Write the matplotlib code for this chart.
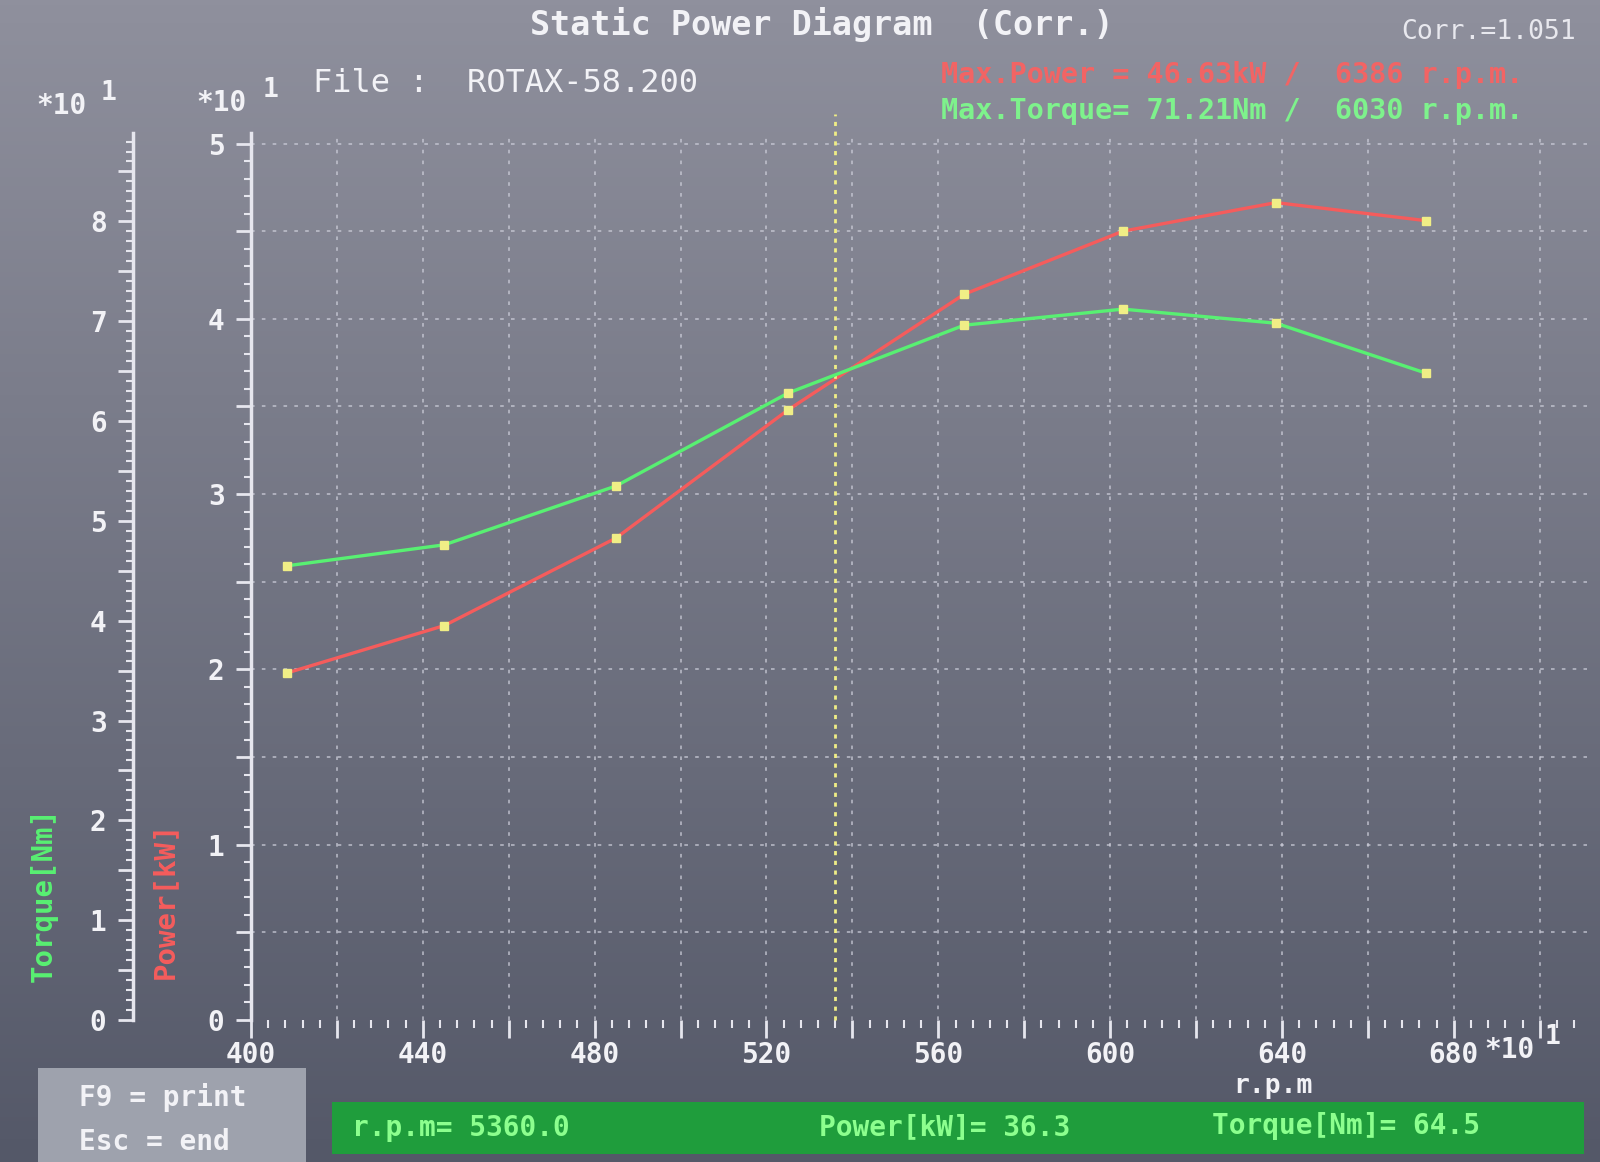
import numpy as np
import matplotlib
matplotlib.use('Agg')
import matplotlib.pyplot as plt
from matplotlib.ticker import MultipleLocator, FuncFormatter
from matplotlib.patches import Rectangle

# measured points (real units)
rpm = [4084, 4450, 4850, 5250, 5660, 6030, 6386, 6735]
power_kw = [19.8, 22.5, 27.5, 34.8, 41.4, 45.0, 46.63, 45.6]
torque_nm = [45.5, 47.6, 53.5, 62.8, 69.6, 71.21, 69.8, 64.8]

x_ticks = [400, 440, 480, 520, 560, 600, 640, 680]
power_ticks = [0, 1, 2, 3, 4, 5]
torque_ticks = [0, 1, 2, 3, 4, 5, 6, 7, 8]

cursor_rpm = 5360.0
cursor_power = 36.3
cursor_torque = 64.5

W, H = 1600, 1162
MONO = 'DejaVu Sans Mono'
WHITE = '#f2f2f6'
RED = '#f55c5c'
GREEN = '#58f072'
YELLOW = '#f0ee86'


def px(x, y):
    return x / W, 1 - y / H


def ftext(x, y, s, **kw):
    kw.setdefault('family', MONO)
    kw.setdefault('weight', 'bold')
    kw.setdefault('color', WHITE)
    kw.setdefault('fontsize', 20)
    fig.text(*px(x, y), s, **kw)


fig = plt.figure(figsize=(16, 11.62), dpi=100)

# screen background, lighter at the top
bg = fig.add_axes([0, 0, 1, 1], zorder=-10)
top = np.array([143, 144, 157]) / 255
bot = np.array([84, 88, 104]) / 255
t = np.linspace(0, 1, 256)[:, None, None]
grad = top * (1 - t) + bot * t
bg.imshow(grad, aspect='auto', extent=[0, 1, 0, 1])
bg.axis('off')

left, right, bottom, top_y = 251, 1587, 1020, 133
ax = fig.add_axes([left / W, 1 - bottom / H, (right - left) / W, (bottom - top_y) / H])
ax.patch.set_alpha(0)
xmin, xmax = 400, 711
ymax = 5.06
ax.set_xlim(xmin, xmax)
ax.set_ylim(0, ymax)

# torque axis, same zero, its own scale
axT = ax.twinx()
axT.set_ylim(0, ymax * 1.756)
axT.yaxis.set_ticks_position('left')
axT.spines['left'].set_position(('axes', (133 - left) / (right - left)))
for s in ['right', 'top', 'bottom']:
    axT.spines[s].set_visible(False)
    ax.spines[s].set_visible(False)
axT.spines['left'].set_visible(True)

for a in (ax, axT):
    a.spines['left'].set_color('#e6e6ee')
    a.spines['left'].set_linewidth(2.5)
ax.spines['bottom'].set_color('#e6e6ee')
ax.spines['bottom'].set_linewidth(2.5)

int_fmt = FuncFormatter(lambda v, p: f'{int(round(v))}' if abs(v - round(v)) < 1e-6 else '')
for a, ticks in ((ax, power_ticks), (axT, torque_ticks)):
    a.yaxis.set_major_locator(MultipleLocator(0.5))
    a.yaxis.set_minor_locator(MultipleLocator(0.1))
    a.yaxis.set_major_formatter(int_fmt)
    a.set_ylim(a.get_ylim())
    a.tick_params(axis='y', which='major', length=11, width=2, color='#e6e6ee',
                  labelcolor=WHITE, labelsize=20, pad=8, direction='out')
    a.tick_params(axis='y', which='minor', length=5, width=1.5, color='#e6e6ee', direction='out')
    for lab in a.get_yticklabels():
        lab.set_family(MONO)
        lab.set_weight('bold')

ax.xaxis.set_major_locator(MultipleLocator(20))
ax.xaxis.set_minor_locator(MultipleLocator(4))
ax.xaxis.set_major_formatter(FuncFormatter(lambda v, p: f'{int(v)}' if int(v) in x_ticks else ''))
ax.tick_params(axis='x', which='major', length=13, width=2, color='#e6e6ee',
               labelcolor=WHITE, labelsize=20, pad=2)
ax.tick_params(axis='x', which='minor', length=6, width=1.5, color='#e6e6ee')
for lab in ax.get_xticklabels():
    lab.set_family(MONO)
    lab.set_weight('bold')

# dotted grid
grid_kw = dict(color='#cfd0dc', lw=1.3, ls=(0, (2, 4)), alpha=0.7, zorder=1)
for gx in range(420, 701, 20):
    ax.axvline(gx, **grid_kw)
for gy in np.arange(0.5, 5.01, 0.5):
    ax.axhline(gy, **grid_kw)

x10 = np.array(rpm) / 10
ax.plot(x10, np.array(power_kw) / 10, color=RED, lw=2.4, zorder=3)
ax.plot(x10, np.array(power_kw) / 10, ls='none', marker='s', ms=6, color=YELLOW, zorder=5)
axT.plot(x10, np.array(torque_nm) / 10, color=GREEN, lw=2.4, zorder=3)
axT.plot(x10, np.array(torque_nm) / 10, ls='none', marker='s', ms=6, color=YELLOW, zorder=5)

# cursor
ax.plot([cursor_rpm / 10] * 2, [0, 5.17], color=YELLOW, lw=2, ls=(0, (1.5, 2)),
        clip_on=False, zorder=4)

# header texts
ftext(822, 24, 'Static Power Diagram  (Corr.)', ha='center', va='center', fontsize=24)
ftext(1576, 32, 'Corr.=1.051', ha='right', va='center', fontsize=19, weight='normal', color='#e8e8ee')
ftext(313, 83, 'File :  ROTAX-58.200', ha='left', va='center', fontsize=23, weight='normal')
ftext(941, 75, 'Max.Power = 46.63kW /  6386 r.p.m.', ha='left', va='center', fontsize=20.5, color='#f26464')
ftext(941, 111, 'Max.Torque= 71.21Nm /  6030 r.p.m.', ha='left', va='center', fontsize=20.5, color='#7ef28c')

# scale multipliers
ftext(62, 106, '*10', ha='center', va='center', fontsize=20)
ftext(109, 93, '1', ha='center', va='center', fontsize=19)
ftext(222, 103, '*10', ha='center', va='center', fontsize=20)
ftext(271, 90, '1', ha='center', va='center', fontsize=19)
ftext(1510, 1050, '*10', ha='center', va='center', fontsize=20)
ftext(1553, 1037, '1', ha='center', va='center', fontsize=19)
ftext(1273, 1086, 'r.p.m', ha='center', va='center', fontsize=19)

# axis titles
ftext(44, 895, 'Torque[Nm]', rotation=90, ha='center', va='center', fontsize=21, color=GREEN)
ftext(165, 900, 'Power[kW]', rotation=90, ha='center', va='center', fontsize=21, color=RED)

# key box bottom left
fig.patches.append(Rectangle(px(38, 1162), 268 / W, 94 / H, transform=fig.transFigure,
                             facecolor='#9ea2ad', edgecolor='none', zorder=-5))
ftext(79, 1097, 'F9 = print', ha='left', va='center', fontsize=20)
ftext(79, 1142, 'Esc = end', ha='left', va='center', fontsize=20)

# status bar
fig.patches.append(Rectangle(px(332, 1154), (1584 - 332) / W, 52 / H, transform=fig.transFigure,
                             facecolor='#1f9d3c', edgecolor='none', zorder=-5))
bar_c = '#8cff8e'
ftext(352, 1128, f'r.p.m= {cursor_rpm:.1f}', ha='left', va='center', fontsize=20, color=bar_c)
ftext(819, 1127, f'Power[kW]= {cursor_power:.1f}', ha='left', va='center', fontsize=20, color=bar_c)
ftext(1212, 1126, f'Torque[Nm]= {cursor_torque:.1f}', ha='left', va='center', fontsize=20, color=bar_c)

fig.savefig('out.png', dpi=100)
